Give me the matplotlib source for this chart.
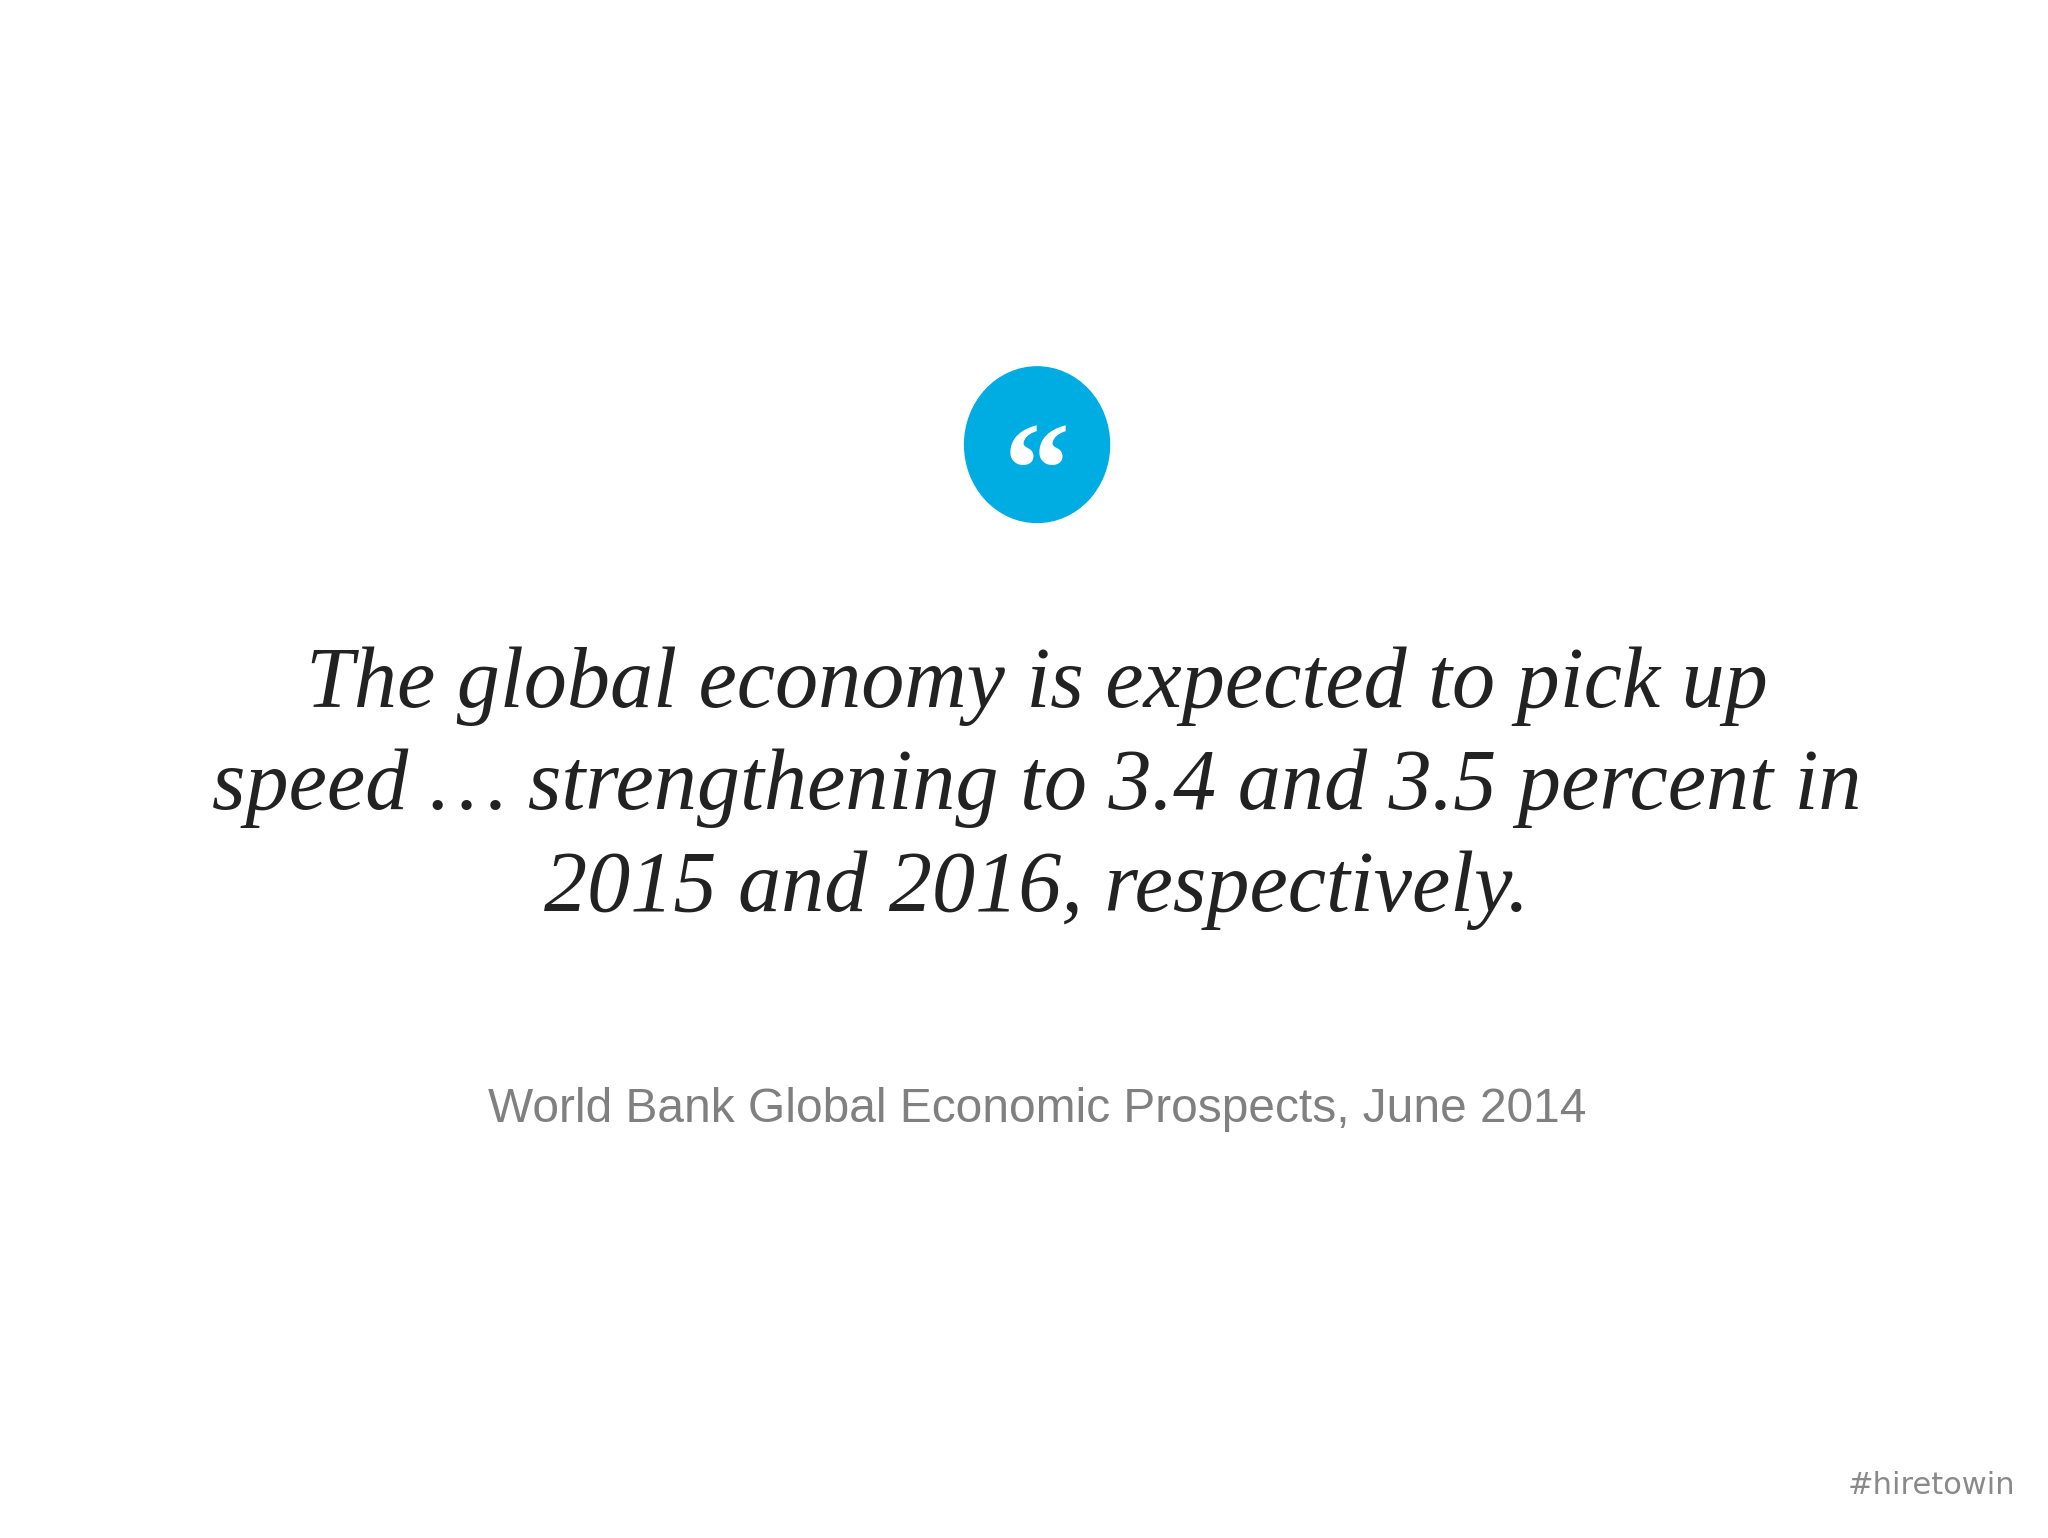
import matplotlib
matplotlib.use("Agg")
import matplotlib.pyplot as plt
from matplotlib.patches import Ellipse

quote_lines = ["The global economy is expected to pick up",
               "speed … strengthening to 3.4 and 3.5 percent in",
               "2015 and 2016, respectively."]
source = "World Bank Global Economic Prospects, June 2014"
tag = "#hiretowin"

W, H = 1568, 1176
fig = plt.figure(figsize=(20.48, 15.38), dpi=100)
fig.patch.set_facecolor("white")
ax = fig.add_axes([0, 0, 1, 1])
ax.set_xlim(0, W); ax.set_ylim(H, 0); ax.axis("off")

ax.add_patch(Ellipse((794, 340), 111, 119, color="#00ade2"))
ax.text(794, 368, "\u201c", ha="center", va="center", fontsize=95, color="white",
        family="Liberation Serif", fontweight="bold")

for i, line in enumerate(quote_lines):
    ax.text(794, 525 + i * 78, line, ha="center", va="center", fontsize=62,
            style="italic", family="Liberation Serif", color="#222222")

ax.text(794, 848, source, ha="center", va="center", fontsize=34.5,
        family="Liberation Sans", color="#808080")
ax.text(1543, 1136, tag, ha="right", va="center", fontsize=22,
        family="DejaVu Sans", color="#8a8a8a")

fig.savefig("out.png", dpi=100, facecolor="white")
